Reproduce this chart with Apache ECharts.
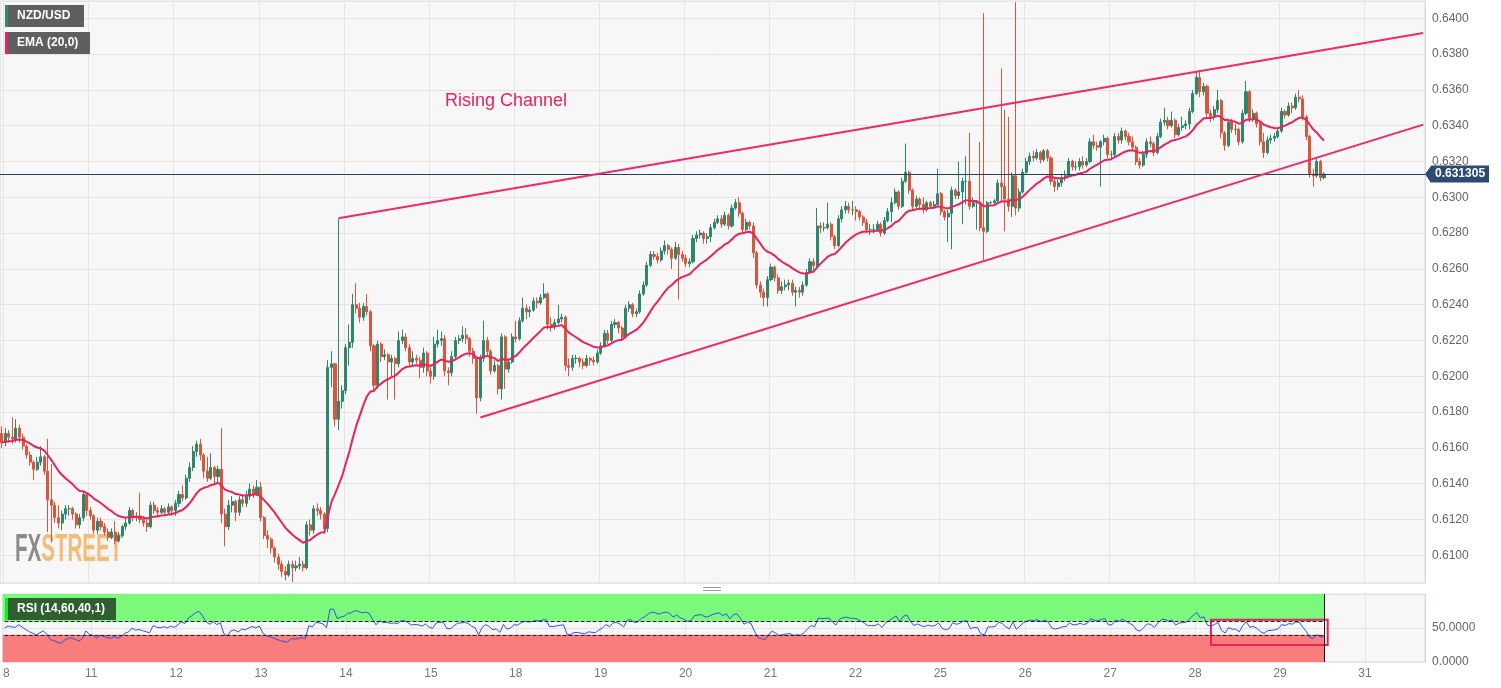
<!DOCTYPE html>
<html><head><meta charset="utf-8">
<script src="https://cdn.jsdelivr.net/npm/echarts@6/dist/echarts.min.js"></script>
<style>html,body{margin:0;padding:0;background:#fff}#c{width:1501px;height:688px}</style>
</head><body><div id="c"></div><script>
// ---- data (prices in pips: 6313 = 0.6313) ----
const dayLabels = ['8','11','12','13','14','15','18','19','20','21','22','25','26','27','28','29','31'];
const firstOpen = 6168;
const closePips = [
6163,6168,6166,6165,6171,6166,6161,6156,6152,6148,6152,6155,6147,6131,6128,6121,6118,6123,6126,6126,6123,6117,6121,6134,6125,
6122,6114,6119,6116,6113,6110,6113,6108,6111,6116,6118,6125,6121,6122,6120,6118,6116,6128,6125,6124,6126,6124,6127,6125,
6129,6134,6132,6143,6149,6158,6162,6156,6147,6143,6149,6144,6148,6123,6116,6128,6130,6124,6131,6129,6133,6137,6134,6138,
6121,6111,6109,6104,6099,6095,6091,6089,6095,6093,6094,6095,6093,6117,6114,6126,6125,6123,6115,6205,6207,6176,6186,6192,
6216,6219,6240,6238,6233,6239,6236,6217,6195,6218,6211,6212,6208,6210,6207,6220,6222,6216,6208,6210,6209,6205,6213,6203,
6200,6218,6220,6221,6203,6202,6211,6220,6221,6223,6221,6214,6210,6188,6210,6220,6214,6203,6206,6193,6222,6204,6208,6222,
6221,6231,6238,6236,6237,6242,6241,6244,6246,6229,6228,6230,6232,6233,6206,6205,6210,6210,6208,6206,6210,6209,6208,6213,
6217,6224,6220,6229,6230,6227,6222,6238,6240,6235,6236,6246,6251,6262,6268,6267,6265,6270,6273,6271,6266,6272,6268,6266,
6263,6264,6277,6279,6280,6277,6278,6283,6286,6288,6285,6290,6284,6294,6297,6291,6282,6286,6284,6269,6251,6247,6244,6254,
6261,6255,6248,6250,6251,6252,6247,6248,6247,6251,6258,6264,6262,6284,6283,6283,6285,6278,6273,6288,6293,6295,6293,6293,
6292,6289,6286,6282,6282,6282,6285,6280,6287,6292,6297,6303,6295,6309,6314,6304,6295,6299,6296,6293,6297,6295,6296,6302,
6292,6289,6291,6304,6301,6303,6309,6309,6295,6297,6297,6283,6281,6297,6297,6298,6308,6306,6299,6295,6312,6294,6303,6314,
6320,6323,6322,6325,6321,6326,6322,6309,6306,6308,6311,6312,6320,6317,6317,6320,6318,6320,6331,6329,6328,6331,6333,6324,
6324,6334,6332,6337,6334,6331,6328,6320,6318,6324,6331,6330,6325,6334,6342,6343,6340,6343,6335,6339,6340,6341,6348,6358,
6367,6359,6362,6347,6345,6349,6354,6336,6329,6342,6338,6338,6331,6347,6359,6344,6347,6341,6331,6325,6332,6333,6334,6337,
6348,6346,6351,6350,6356,6355,6345,6334,6313,6312,6320,6311,6313];
const highPips = [
6172,6171,6170,6177,6176,6173,6168,6162,6158,6153,6155,6161,6156,6165,6151,6130,6128,6125,6128,6128,6127,6124,6123,6136,6134,
6127,6123,6121,6121,6118,6115,6115,6119,6113,6117,6121,6127,6126,6124,6135,6122,6120,6130,6130,6127,6128,6127,6129,6128,
6131,6136,6139,6145,6152,6161,6164,6165,6157,6155,6157,6150,6150,6171,6126,6131,6133,6131,6133,6134,6136,6140,6139,6142,
6141,6122,6114,6110,6105,6101,6097,6094,6097,6097,6097,6099,6097,6119,6120,6128,6129,6127,6124,6209,6214,6207,6288,6195,
6218,6229,6246,6252,6241,6241,6246,6237,6218,6220,6219,6215,6213,6212,6211,6225,6226,6224,6218,6214,6212,6211,6216,6214,
6205,6222,6226,6225,6223,6205,6214,6222,6223,6228,6227,6222,6216,6211,6212,6231,6222,6215,6209,6207,6224,6223,6210,6224,
6231,6233,6244,6240,6239,6244,6244,6246,6252,6247,6233,6232,6240,6235,6234,6210,6212,6212,6211,6210,6212,6211,6211,6215,
6219,6226,6226,6231,6232,6231,6228,6240,6242,6241,6238,6248,6253,6264,6270,6270,6269,6272,6276,6274,6272,6275,6274,6270,
6268,6266,6279,6281,6282,6281,6280,6285,6288,6290,6290,6292,6291,6296,6299,6300,6292,6288,6287,6286,6270,6253,6249,6256,
6263,6262,6257,6253,6254,6254,6254,6250,6250,6253,6260,6266,6266,6294,6286,6286,6297,6286,6279,6290,6295,6298,6297,6298,
6295,6293,6290,6288,6285,6285,6287,6286,6289,6294,6300,6305,6304,6311,6330,6315,6305,6301,6300,6300,6298,6298,6298,6316,
6303,6293,6293,6306,6305,6320,6311,6323,6336,6300,6298,6331,6403,6298,6298,6299,6310,6372,6349,6345,6314,6409,6305,6316,
6322,6325,6326,6327,6326,6327,6327,6323,6311,6310,6313,6315,6322,6321,6320,6322,6323,6322,6333,6335,6331,6332,6335,6334,
6326,6336,6336,6339,6338,6336,6334,6329,6322,6326,6333,6334,6331,6336,6344,6350,6345,6348,6344,6341,6345,6343,6350,6360,
6370,6371,6364,6363,6349,6351,6360,6355,6337,6344,6344,6341,6339,6349,6365,6360,6349,6348,6343,6336,6334,6335,6336,6339,
6350,6349,6353,6353,6358,6360,6357,6346,6335,6316,6322,6321,6314];
const lowPips = [
6160,6161,6163,6162,6163,6163,6159,6154,6150,6142,6147,6150,6145,6113,6107,6118,6115,6114,6120,6122,6120,6115,6115,6119,6122,
6120,6112,6112,6114,6111,6108,6109,6106,6107,6110,6114,6117,6119,6119,6118,6116,6113,6115,6123,6121,6123,6122,6123,6122,
6122,6127,6130,6131,6141,6147,6155,6153,6143,6141,6142,6140,6141,6118,6105,6114,6124,6119,6122,6127,6127,6131,6132,6133,
6119,6109,6104,6101,6096,6092,6088,6086,6088,6085,6091,6092,6091,6092,6111,6112,6122,6120,6112,6113,6194,6172,6170,6182,
6190,6206,6216,6235,6230,6231,6234,6214,6192,6193,6208,6209,6187,6200,6187,6205,6218,6214,6205,6206,6207,6199,6202,6200,
6196,6198,6216,6217,6200,6195,6200,6209,6218,6219,6218,6211,6207,6179,6186,6208,6211,6201,6202,6190,6187,6193,6202,6207,
6219,6220,6230,6232,6233,6236,6238,6240,6243,6226,6225,6226,6229,6230,6203,6200,6203,6207,6205,6204,6205,6206,6206,6207,
6212,6216,6218,6219,6227,6224,6220,6221,6236,6233,6233,6235,6245,6250,6261,6265,6263,6264,6268,6268,6260,6265,6243,6264,
6261,6261,6263,6275,6277,6274,6274,6275,6282,6285,6283,6284,6282,6283,6293,6289,6280,6281,6282,6266,6249,6244,6239,6239,
6253,6253,6246,6246,6248,6248,6245,6239,6244,6245,6250,6257,6259,6261,6280,6281,6282,6276,6271,6272,6286,6291,6291,6290,
6287,6287,6284,6280,6279,6280,6281,6278,6279,6286,6286,6296,6293,6294,6308,6302,6293,6294,6294,6291,6292,6294,6294,6295,
6290,6287,6275,6271,6299,6299,6285,6296,6293,6294,6282,6281,6265,6280,6296,6296,6297,6298,6281,6292,6289,6290,6292,6302,
6313,6318,6320,6321,6319,6320,6320,6307,6303,6304,6306,6309,6311,6315,6315,6315,6316,6317,6319,6327,6326,6306,6329,6322,
6321,6322,6330,6330,6332,6329,6326,6318,6316,6317,6322,6328,6323,6324,6333,6340,6338,6339,6333,6334,6337,6338,6338,6347,
6357,6356,6357,6345,6342,6343,6347,6333,6326,6328,6336,6335,6329,6330,6346,6342,6342,6339,6329,6322,6324,6330,6331,6333,
6336,6344,6345,6347,6349,6353,6343,6332,6311,6306,6311,6309,6310];
const lastPrice = 6313.05;
const channelUpper = [[95, 6288.3], [401, 6391.8]];
const channelLower = [[135, 6177], [401, 6340.6]];
const rsiUpperLevel = 60;
const rsiLowerLevel = 40;
const rsiHighlightBox = [[341, 62], [374, 25]];
const emaPeriod = 20;
const rsiPeriod = 14;

// ---- derived ----
const SLOTS = 402;
const cats = Array.from({length: SLOTS}, (_, i) => String(i));
const openPips = closePips.map((c, i) => i === 0 ? firstOpen : closePips[i - 1]);
const candles = closePips.map((c, i) => {
  const o = openPips[i];
  return [o, c, Math.min(lowPips[i], o, c), Math.max(highPips[i], o, c)];
});
const kEma = 2 / (emaPeriod + 1);
let e = closePips[0];
const ema = closePips.map((c, i) => { if (i > 0) e = c * kEma + e * (1 - kEma); return +e.toFixed(2); });
let ag = 3, al = 3;
const rsi = closePips.map((c, i) => {
  if (i === 0) return 50;
  const d = c - closePips[i - 1];
  ag = (ag * (rsiPeriod - 1) + Math.max(d, 0)) / rsiPeriod;
  al = (al * (rsiPeriod - 1) + Math.max(-d, 0)) / rsiPeriod;
  return +(100 - 100 / (1 + ag / al)).toFixed(2);
});
const lastIdx = closePips.length - 1;

const FONT = "'Liberation Sans', Arial, sans-serif";
const UP = '#2e866b', DOWN = '#d8553e', PINK = '#e8225f';
const GRIDC = '#e4e4e4', BORDER = '#d3dae8';
const dayInterval = (i) => i % 24 === 1;

function labelBox(x, y, w, bg, stripe, text) {
  return {type: 'group', x: x, y: y, z: 50, children: [
    {type: 'rect', z: 50, shape: {x: 0, y: 0, width: w, height: 22}, style: {fill: bg}},
    {type: 'rect', z: 51, shape: {x: 0, y: 0, width: 3, height: 22}, style: {fill: stripe}},
    {type: 'text', z: 52, x: 12, y: 11, style: {text: text, fill: '#fff', font: "bold 12px " + FONT, verticalAlign: 'middle'}}
  ]};
}

const chart = echarts.init(document.getElementById('c'), null, {renderer: 'canvas'});
const option = {
  animation: false,
  backgroundColor: '#ffffff',
  textStyle: {fontFamily: FONT},
  grid: [
    {left: 0, right: 76, top: 1, height: 582, show: true, backgroundColor: '#f7f7f7', borderColor: BORDER, borderWidth: 1},
    {left: 0, right: 76, top: 594, height: 68, show: true, backgroundColor: '#f7f7f7', borderColor: BORDER, borderWidth: 1}
  ],
  xAxis: [
    {type: 'category', data: cats, gridIndex: 0, boundaryGap: true,
     axisLine: {show: false}, axisTick: {show: false}, axisLabel: {show: false},
     splitLine: {show: true, interval: dayInterval, lineStyle: {color: GRIDC, width: 1}}},
    {type: 'category', data: cats, gridIndex: 1, boundaryGap: true,
     axisLine: {show: false}, axisTick: {show: false},
     axisLabel: {show: true, interval: dayInterval, color: '#777', fontSize: 12, margin: 6, padding: [0, 3.5, 0, 0],
       formatter: (v) => { const i = +v; return i % 24 === 1 ? (dayLabels[(i - 1) / 24] || '') : ''; }},
     splitLine: {show: true, interval: dayInterval, lineStyle: {color: GRIDC, width: 1}}}
  ],
  yAxis: [
    {type: 'value', gridIndex: 0, position: 'right', min: 6084.5, max: 6409.7, splitNumber: 16,
     axisLine: {show: true, lineStyle: {color: BORDER}}, axisTick: {show: false},
     axisLabel: {color: '#666', fontSize: 12, margin: 7,
       formatter: (v) => Math.abs(v % 20) < 1e-6 ? (v / 10000).toFixed(4) : ''},
     splitLine: {show: true, lineStyle: {color: GRIDC}}},
    {type: 'value', gridIndex: 1, position: 'right', min: 0, max: 100, interval: 50,
     axisLine: {show: true, lineStyle: {color: BORDER}}, axisTick: {show: false},
     axisLabel: {color: '#666', fontSize: 12, margin: 7, showMaxLabel: false, formatter: (v) => v.toFixed(4)},
     splitLine: {show: true, lineStyle: {color: GRIDC}}}
  ],
  series: [
    {type: 'candlestick', name: 'NZD/USD', xAxisIndex: 0, yAxisIndex: 0, data: candles, barWidth: '72%',
     itemStyle: {color: UP, color0: DOWN, borderColor: UP, borderColor0: DOWN, borderWidth: 1},
     markLine: {silent: true, symbol: ['none', 'none'], precision: 2,
       lineStyle: {color: '#22406e', width: 1, type: 'solid'},
       label: {show: true, position: 'end', distance: 6, formatter: () => (lastPrice / 10000).toFixed(6),
         color: '#fff', backgroundColor: '#2c4a72', padding: [2, 4, 2, 4], fontWeight: 'bold', fontSize: 12, lineHeight: 13},
       data: [{yAxis: lastPrice}]}},
    {type: 'line', name: 'EMA', xAxisIndex: 0, yAxisIndex: 0, data: ema, showSymbol: false, symbol: 'none', z: 4,
     lineStyle: {color: PINK, width: 2}},
    {type: 'line', name: 'upper', xAxisIndex: 0, yAxisIndex: 0, data: channelUpper, symbol: 'none', z: 5,
     lineStyle: {color: '#ee2a67', width: 2}},
    {type: 'line', name: 'lower', xAxisIndex: 0, yAxisIndex: 0, data: channelLower, symbol: 'none', z: 5,
     lineStyle: {color: '#ee2a67', width: 2}},
    {type: 'line', name: 'RSI', xAxisIndex: 1, yAxisIndex: 1, data: rsi, symbol: 'none', z: 3,
     lineStyle: {color: '#2f4ff0', width: 1},
     markArea: {silent: true, data: [
       [{xAxis: -Infinity, yAxis: rsiUpperLevel, itemStyle: {color: '#7cf87a'}}, {xAxis: lastIdx, yAxis: 100}],
       [{xAxis: -Infinity, yAxis: 0, itemStyle: {color: '#f87d7b'}}, {xAxis: lastIdx, yAxis: rsiLowerLevel}],
       [{xAxis: rsiHighlightBox[0][0], yAxis: rsiHighlightBox[0][1], itemStyle: {color: 'rgba(0,0,0,0)', borderColor: PINK, borderWidth: 2}},
        {xAxis: rsiHighlightBox[1][0], yAxis: rsiHighlightBox[1][1]}]
     ]},
     markLine: {silent: true, symbol: ['none', 'none'], label: {show: false},
       lineStyle: {color: '#222', type: 'dashed', width: 1},
       data: [
         [{xAxis: 0, yAxis: rsiUpperLevel}, {xAxis: lastIdx, yAxis: rsiUpperLevel}],
         [{xAxis: 0, yAxis: rsiLowerLevel}, {xAxis: lastIdx, yAxis: rsiLowerLevel}],
         [{xAxis: lastIdx, yAxis: 0, lineStyle: {type: 'solid', color: '#111'}}, {xAxis: lastIdx, yAxis: 100}]
       ]}}
  ],
  graphic: [
    {type: 'text', x: 445, y: 101, z: 10, style: {text: 'Rising Channel', fill: PINK, font: "18px " + FONT, verticalAlign: 'middle'}},
    labelBox(5, 5, 79, '#5f5f5f', '#2e8b6f', 'NZD/USD'),
    labelBox(5, 32, 85, '#5f5f5f', PINK, 'EMA (20,0)'),
    labelBox(5, 598, 111, '#2f5e30', '#1ee61e', 'RSI (14,60,40,1)'),
    {type: 'group', x: 15, y: 551, z: 2, scaleX: 0.54, children: [
      {type: 'text', x: 0, y: 0, z: 2, style: {text: '{a|FX}{b|STREET}', verticalAlign: 'middle', font: "bold 38px " + FONT,
        rich: {a: {fill: 'rgba(120,120,120,0.85)', font: "bold 38px " + FONT}, b: {fill: 'rgba(244,172,88,0.8)', font: "bold 38px " + FONT}}}}
    ]},
    {type: 'rect', shape: {x: 703, y: 587, width: 18, height: 1}, style: {fill: '#999'}},
    {type: 'rect', shape: {x: 703, y: 590, width: 18, height: 1}, style: {fill: '#999'}}
  ]
};
chart.setOption(option);
const py = chart.convertToPixel({yAxisIndex: 0}, lastPrice);
chart.setOption({graphic: option.graphic.concat([
  {type: 'polygon', z: 60, shape: {points: [[1425, py], [1431, py - 8], [1431, py + 9]]}, style: {fill: '#2c4a72'}}
])});
</script></body></html>
